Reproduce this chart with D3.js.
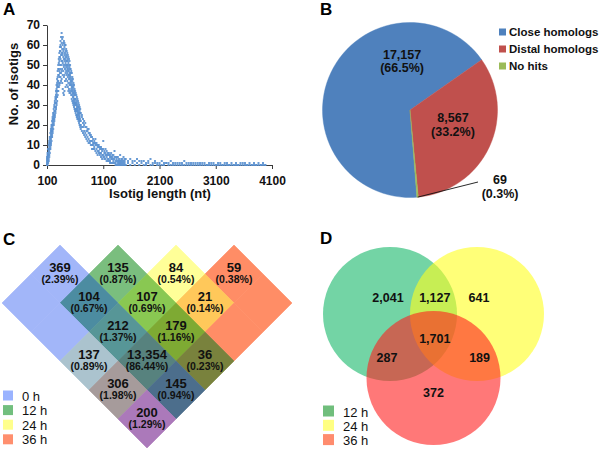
<!DOCTYPE html>
<html><head><meta charset="utf-8">
<script src="https://cdn.jsdelivr.net/npm/d3@7"></script>
<style>
html,body{margin:0;padding:0;background:#fff;}
svg{display:block;font-family:"Liberation Sans",Arial,Helvetica,sans-serif;}
</style></head><body>
<svg id="fig" width="600" height="450"></svg>
<script>
// ---------------- DATA ----------------
// Panel A: isotig length distribution (counts, several readings per bin)
const xTicksA = [100, 1100, 2100, 3100, 4100];
const yTicksA = [0, 10, 20, 30, 40, 50, 60, 70];
const isoLenA = d3.range(100, 700, 10);
const cntA = [
 [0,3,1,0,4,2],[2,0,5,1,3,6],[4,8,2,6,1,5],[7,3,10,5,2,8],[9,5,12,7,11,4],[8,13,6,11,14,10],
 [12,9,16,14,8,11],[15,11,18,13,17,10],[14,19,12,17,20,16],[18,15,22,20,14,17],[21,17,24,19,23,16],
 [20,25,18,23,26,22],[24,21,28,26,20,23],[27,23,30,25,29,22],[29,25,32,27,31,24],[31,27,34,29,26,33],
 [33,29,37,31,35,28],[36,31,40,34,38,30],[39,34,43,37,32,41],[42,37,47,44,35,40],[45,39,50,42,48,37],
 [48,41,53,45,39,51],[52,44,56,47,40,54],[54,46,59,50,41,57],[57,48,62,44,53,60],[59,50,64,46,55,42],
 [61,52,66,47,56,43],[55,63,48,58,41,52],[60,51,64,45,56,38],[54,47,61,57,36,50],[58,49,62,44,53,35],
 [52,59,45,61,37,55],[56,48,60,42,53,50],[51,57,46,60,39,54],[55,47,58,43,52,49],[50,54,45,57,40,52],
 [53,46,56,42,50,48],[49,52,44,55,39,47],[51,45,54,41,48,37],[47,50,43,53,38,45],[49,44,52,40,46,36],
 [45,48,41,50,37,43],[44,40,48,36,46,42],[42,46,38,47,35,40],[41,37,46,43,33,39],[39,42,35,44,32,37],
 [38,34,43,40,31,36],[36,39,32,41,30,34],[35,31,40,37,29,33],[33,36,30,38,28,32],[31,35,28,37,27,33],
 [30,33,27,36,26,31],[32,28,35,25,30,27],[28,31,25,34,24,29],[27,30,24,33,23,28],[29,25,32,23,27,26],
 [26,29,23,31,22,25],[24,28,21,30,26,23],[25,22,29,20,27,24],[23,26,20,28,19,22]
];
const isoLenB = d3.range(700, 1500, 20);
const cntB = [
 [22,18,26,20],[19,24,17,25],[21,16,23,19],[17,22,15,20],[19,14,21,16],[15,19,13,17],[17,12,18,14],
 [13,16,11,18],[15,11,16,12],[12,15,10,14],[14,10,12,8],[11,8,13,10],[9,12,8,11],[11,7,10,13],
 [8,11,6,10],[10,7,9,5],[7,10,6,9],[9,5,8,6],[6,9,4,8],[8,5,7,3],[5,12,4,8],[7,4,6,3],[5,8,3,6],
 [4,7,2,5],[6,3,5,2],[3,5,2,6],[5,2,4,1],[3,6,1,4],[4,1,3,5],[2,5,3,1],[3,7,1,4],[2,4,1,0],[3,0,2,4],
 [1,4,2,0],[2,0,3,1],[1,5,2,0],[3,1,0,2],[1,2,0,3],[2,0,4,1],[0,2,1,3]
];
const isoLenC = d3.range(1500, 4000, 40);
const cntC = [
 [0,3],[1,2],[0,3],[1,2],[0,2],[1,3],[0,2],[1,2],[0,2],[0,1],[1,2],[0,3],[0,1],[1,2],[0,1],[0,1],
 [0,2],[0,1],[1,1],[0,1],[0,2],[0,1],[0,1],[0,1],[0,1],[0,1],[0,2],[0,1],[0,1],[0,1],[0,1],[0,1],
 [0,1],[0,1],[0,1],[0,1],[0,0],[0,1],[0,1],[0,1],[0,0],[0,1],[0,1],[0,0],[0,1],[0,1],[0,0],[0,1],
 [0,0],[0,1],[0,0],[0,1],[0,1],[0,1],[0,0],[0,1],[0,0],[0,1],[0,0],[0,1],[0,0],[0,1],[0,0]
];

// Panel B: BLAST hit categories
const pieCats = ["Close homologs", "Distal homologs", "No hits"];
const pieVals = [17157, 8567, 69];
const pieValLabels = ["17,157", "8,567", "69"];
const piePct = ["(66.5%)", "(33.2%)", "(0.3%)"];

// Panel C: four-set diagram (0 h, 12 h, 24 h, 36 h)
const setsC = ["0 h", "12 h", "24 h", "36 h"];
const regionKeysC = ["A","B","C","D","AB","BC","CD","ABC","BCD","AC","ABCD","BD","ACD","ABD","AD"];
const regionCountsC = ["369","135","84","59","104","107","21","212","179","137","13,354","36","306","145","200"];
const regionPctC = ["(2.39%)","(0.87%)","(0.54%)","(0.38%)","(0.67%)","(0.69%)","(0.14%)","(1.37%)","(1.16%)","(0.89%)","(86.44%)","(0.23%)","(1.98%)","(0.94%)","(1.29%)"];

// Panel D: three-set Venn (12 h, 24 h, 36 h)
const setsD = ["12 h", "24 h", "36 h"];
const regionCountsD = ["2,041", "1,127", "641", "1,701", "287", "189", "372"];

// ---------------- STYLE / LAYOUT ----------------
const svg = d3.select("#fig");
svg.append("rect").attr("width", 600).attr("height", 450).attr("fill", "#fff");
const TXT = "#111";

// panel letters
const letters = [["A",3,15],["B",320,15],["C",3,245],["D",320,244]];
svg.selectAll("text.letter").data(letters).join("text")
  .attr("x", d => d[1]).attr("y", d => d[2]).text(d => d[0])
  .attr("font-size", 17).attr("font-weight", "bold").attr("fill", "#000");

// ---------- Panel A ----------
const gA = svg.append("g");
const xA = d3.scaleLinear().domain([100, 4100]).range([47, 272]);
const yA = d3.scaleLinear().domain([0, 70]).range([165, 25]);
const axY = gA.append("g").attr("transform", "translate(47,0)")
  .call(d3.axisLeft(yA).tickValues(yTicksA).tickSize(4).tickSizeOuter(0).tickPadding(3));
const axX = gA.append("g").attr("transform", "translate(0,165)")
  .call(d3.axisBottom(xA).tickValues(xTicksA).tickFormat(d3.format("d")).tickSize(4).tickSizeOuter(0).tickPadding(7));
[axY, axX].forEach(ax => {
  ax.select(".domain").attr("stroke", "#3a3a3a");
  ax.selectAll(".tick line").attr("stroke", "#3a3a3a");
  ax.selectAll(".tick text").attr("font-size", 12).attr("font-weight", "bold")
    .attr("fill", TXT).attr("font-family", "Liberation Sans, Arial, sans-serif");
});
const ptsA = [];
isoLenA.forEach((L, k) => cntA[k].forEach(n => ptsA.push([L, n])));
isoLenB.forEach((L, k) => cntB[k].forEach(n => ptsA.push([L, n])));
isoLenC.forEach((L, k) => cntC[k].forEach(n => ptsA.push([L, n])));
gA.selectAll("rect.pt").data(ptsA).join("rect")
  .attr("x", d => xA(d[0]) - 1).attr("y", d => yA(d[1]) - 1)
  .attr("width", 2).attr("height", 2).attr("fill", "#5b91d0").attr("opacity", 0.9);
gA.append("text").attr("transform", "translate(18,84) rotate(-90)")
  .attr("text-anchor", "middle").attr("font-size", 13).attr("font-weight", "bold")
  .attr("fill", TXT).text("No. of isotigs");
gA.append("text").attr("x", 160).attr("y", 198)
  .attr("text-anchor", "middle").attr("font-size", 13).attr("font-weight", "bold")
  .attr("fill", TXT).text("Isotig length (nt)");

// ---------- Panel B ----------
const pieColors = ["#4f81bd", "#c0504d", "#9bbb59"];
const cB = [410, 110], rB = 87.5;
const gB = svg.append("g").attr("transform", `translate(${cB[0]},${cB[1]})`);
const deg = Math.PI / 180;
const pieGen = d3.pie().sort(null).startAngle(175.5 * deg).endAngle(535.5 * deg);
const arcs = pieGen(pieVals);
const arcGen = d3.arc().innerRadius(0).outerRadius(rB);
gB.selectAll("path").data(arcs).join("path").attr("d", arcGen)
  .attr("fill", (d, i) => pieColors[i]).attr("stroke", (d, i) => pieColors[i]).attr("stroke-width", 0.4);
const pieLabelPolar = [[350, 45.7], [113.3, 46.8], [131.9, 121]];
const polar = (a, r) => [r * Math.sin(a * deg), -r * Math.cos(a * deg)];
arcs.forEach((a, i) => {
  const p = polar(pieLabelPolar[i][0], pieLabelPolar[i][1]);
  gB.append("text").attr("x", p[0]).attr("y", p[1] - 6.5).attr("text-anchor", "middle")
    .attr("font-size", 12.5).attr("font-weight", "bold").attr("fill", TXT).text(pieValLabels[i]);
  gB.append("text").attr("x", p[0]).attr("y", p[1] + 7).attr("text-anchor", "middle")
    .attr("font-size", 12.5).attr("font-weight", "bold").attr("fill", TXT).text(piePct[i]);
});
// leader line for the small slice
{
  const a = arcs[2];
  const p0 = polar((a.startAngle + a.endAngle) / 2 / deg, rB);
  gB.append("line").attr("x1", p0[0]).attr("y1", p0[1]).attr("x2", 68).attr("y2", 72)
    .attr("stroke", "#111").attr("stroke-width", 0.9);
}
const legB = svg.append("g");
pieCats.forEach((c, i) => {
  const yb = 36 + i * 17;
  legB.append("rect").attr("x", 499).attr("y", yb - 7.5).attr("width", 7).attr("height", 7).attr("fill", pieColors[i]);
  legB.append("text").attr("x", 509).attr("y", yb).attr("font-size", 11.5).attr("font-weight", "bold")
    .attr("fill", TXT).text(c);
});

// ---------- Panel C ----------
const gC = svg.append("g");
// grid index -> pixel through linear scales (diamond lattice)
const xC = d3.scaleLinear().domain([0, 1]).range([147, 176]);   // x = 147 + 29*(i-j)
const yC = d3.scaleLinear().domain([0, 1]).range([158, 187]);   // y = 158 + 29*(i+j)
const px = (i, j) => [xC(i - j), yC(i + j)];
// each set is a band in lattice coordinates [i0,i1) x [j0,j1)
const setExtent = { A: [0, 5, 3, 5], B: [1, 5, 2, 4], C: [2, 4, 1, 5], D: [3, 5, 0, 5] };
const regionColor = {
  A: "#a2b6f9", B: "#7abe7e", C: "#ffff98", D: "#ff8d66",
  AB: "#4c8ca1", BC: "#89c852", CD: "#ffc85a", ABC: "#579697", BCD: "#7eaa33",
  AC: "#abc3ce", ABCD: "#57827e", BD: "#79823d", ACD: "#a69b9b", ABD: "#4c6e8c", AD: "#ab79ba"
};
const cells = [];
for (let i = 0; i < 5; i++) for (let j = 0; j < 5; j++) {
  const key = Object.keys(setExtent).filter(s => {
    const e = setExtent[s]; return i >= e[0] && i < e[1] && j >= e[2] && j < e[3];
  }).join("");
  if (key) cells.push({ i, j, key });
}
gC.selectAll("path.cell").data(cells).join("path")
  .attr("d", d => "M" + [px(d.i, d.j), px(d.i + 1, d.j), px(d.i + 1, d.j + 1), px(d.i, d.j + 1)].join("L") + "Z")
  .attr("fill", d => regionColor[d.key]).attr("stroke", d => regionColor[d.key]).attr("stroke-width", 0.6);
regionKeysC.forEach((k, r) => {
  const cand = cells.filter(c => c.key === k).sort((a, b) => (a.i + a.j) - (b.i + b.j))[0];
  const p = px(cand.i + 0.5, cand.j + 0.5);
  gC.append("text").attr("x", p[0]).attr("y", p[1] - 2.5).attr("text-anchor", "middle")
    .attr("font-size", 13).attr("font-weight", "bold").attr("fill", TXT).text(regionCountsC[r]);
  gC.append("text").attr("x", p[0]).attr("y", p[1] + 9).attr("text-anchor", "middle")
    .attr("font-size", 10.5).attr("font-weight", "bold").attr("fill", TXT).text(regionPctC[r]);
});
const legColC = ["#9ab3ff", "#72bf7e", "#ffff8c", "#ff8f6e"];
setsC.forEach((s, i) => {
  const yb = 400.5 + i * 14.6;
  gC.append("rect").attr("x", 3).attr("y", yb - 10).attr("width", 10).attr("height", 10).attr("fill", legColC[i]);
  gC.append("text").attr("x", 22).attr("y", yb).attr("font-size", 13).attr("fill", TXT).text(s);
});

// ---------- Panel D ----------
const gD = svg.append("g");
const xD = d3.scaleLinear().domain([-1, 1]).range([390, 477]);
const yD = d3.scaleLinear().domain([0, 1]).range([314, 378]);
const circD = [[-1, 0, "#16b769"], [1, 0, "#ffff1e"], [0, 1, "#ff1e1e"]];
gD.selectAll("circle").data(circD).join("circle")
  .attr("cx", d => xD(d[0])).attr("cy", d => yD(d[1])).attr("r", 67)
  .attr("fill", d => d[2]).attr("fill-opacity", 0.6);
const labPosD = [[-1.046, -0.19], [0.03, -0.19], [1.046, -0.19], [0.03, 0.453], [-1.07, 0.745], [1.06, 0.745], [0, 1.29]];
regionCountsD.forEach((t, i) => {
  gD.append("text").attr("x", xD(labPosD[i][0])).attr("y", yD(labPosD[i][1]))
    .attr("text-anchor", "middle").attr("font-size", 12.5).attr("font-weight", "bold")
    .attr("fill", TXT).text(t);
});
const legColD = ["#70be7c", "#ffff82", "#ff8c6e"];
setsD.forEach((s, i) => {
  const yb = 416.5 + i * 14.3;
  gD.append("rect").attr("x", 323).attr("y", yb - 11).attr("width", 11).attr("height", 11).attr("fill", legColD[i]);
  gD.append("text").attr("x", 343).attr("y", yb).attr("font-size", 13).attr("fill", TXT).text(s);
});
</script></body></html>
